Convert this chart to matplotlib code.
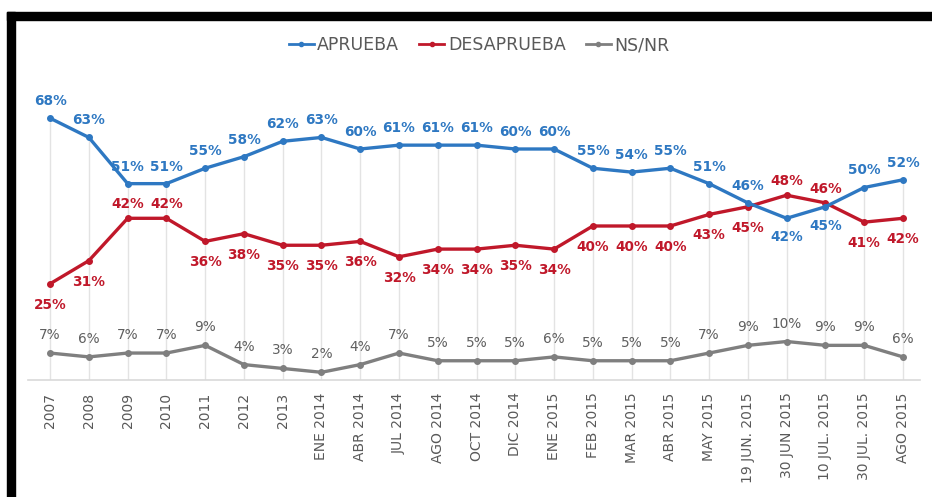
import matplotlib.pyplot as plt
from matplotlib.patches import Rectangle
from matplotlib.lines import Line2D

categories = ["2007", "2008", "2009", "2010", "2011", "2012", "2013",
              "ENE 2014", "ABR 2014", "JUL 2014", "AGO 2014", "OCT 2014",
              "DIC 2014", "ENE 2015", "FEB 2015", "MAR 2015", "ABR 2015",
              "MAY 2015", "19 JUN. 2015", "30 JUN 2015", "10 JUL. 2015",
              "30 JUL. 2015", "AGO 2015"]
aprueba = [68, 63, 51, 51, 55, 58, 62, 63, 60, 61, 61, 61, 60, 60, 55, 54, 55, 51, 46, 42, 45, 50, 52]
desaprueba = [25, 31, 42, 42, 36, 38, 35, 35, 36, 32, 34, 34, 35, 34, 40, 40, 40, 43, 45, 48, 46, 41, 42]
nsnr = [7, 6, 7, 7, 9, 4, 3, 2, 4, 7, 5, 5, 5, 6, 5, 5, 5, 7, 9, 10, 9, 9, 6]

# which labels sit on the "other" side of the point
blue_below = {"30 JUN 2015", "10 JUL. 2015"}
red_above = {"2009", "2010", "30 JUN 2015", "10 JUL. 2015"}

BLUE = "#2E78C2"
RED = "#C0182A"
GRAY = "#7F7F7F"

fig = plt.figure(figsize=(9.32, 4.97), dpi=100)
ax = fig.add_axes([28 / 932, 1 - 380 / 497, 892 / 932, 308 / 497])

x = list(range(len(categories)))

# drop lines
tops = [max(a, d, n) for a, d, n in zip(aprueba, desaprueba, nsnr)]
ax.vlines(x, 0, tops, color="#E3E3E3", linewidth=1.0, zorder=1)

ax.plot(x, nsnr, color=GRAY, linewidth=2.4, marker="o", markersize=4, zorder=3)
ax.plot(x, desaprueba, color=RED, linewidth=2.4, marker="o", markersize=4, zorder=3)
ax.plot(x, aprueba, color=BLUE, linewidth=2.4, marker="o", markersize=4, zorder=4)

for i, cat in enumerate(categories):
    dy = -19 if cat in blue_below else 17
    ax.annotate(f"{aprueba[i]}%", (i, aprueba[i]), xytext=(0, dy), textcoords="offset pixels",
                ha="center", va="center", color=BLUE, fontsize=9.8, fontweight="bold")
    dy = 14 if cat in red_above else -21
    ax.annotate(f"{desaprueba[i]}%", (i, desaprueba[i]), xytext=(0, dy), textcoords="offset pixels",
                ha="center", va="center", color=RED, fontsize=9.8, fontweight="bold")
    ax.annotate(f"{nsnr[i]}%", (i, nsnr[i]), xytext=(0, 18), textcoords="offset pixels",
                ha="center", va="center", color="#5F5F5F", fontsize=9.8)

ax.set_xlim(-0.57, len(categories) - 1 + 0.44)
ax.set_ylim(0, 80)
ax.set_xticks(x)
ax.set_xticklabels(categories, rotation=90, fontsize=10, color="#595959")
ax.tick_params(axis="x", length=0, pad=9)
ax.set_yticks([])
for side in ["top", "left", "right"]:
    ax.spines[side].set_visible(False)
ax.spines["bottom"].set_color("#D9D9D9")
ax.spines["bottom"].set_linewidth(1.2)

handles = [Line2D([], [], color=c, linewidth=2, marker="o", markersize=3)
           for c in (BLUE, RED, GRAY)]
fig.legend(handles, ["APRUEBA", "DESAPRUEBA", "NS/NR"], loc="center",
           bbox_to_anchor=(0.514, 1 - 45 / 497), ncol=3, frameon=False,
           fontsize=12.5, labelcolor="#595959", handlelength=1.45,
           handletextpad=0.2, columnspacing=1.15)

# black frame from the screenshot
fig.patches.append(Rectangle((7 / 932, 1 - 20 / 497), 1, 8 / 497,
                             transform=fig.transFigure, color="black", zorder=10))
fig.patches.append(Rectangle((7 / 932, 0), 8 / 932, 1 - 12 / 497,
                             transform=fig.transFigure, color="black", zorder=10))

fig.savefig("out.png", dpi=100, facecolor="white")
